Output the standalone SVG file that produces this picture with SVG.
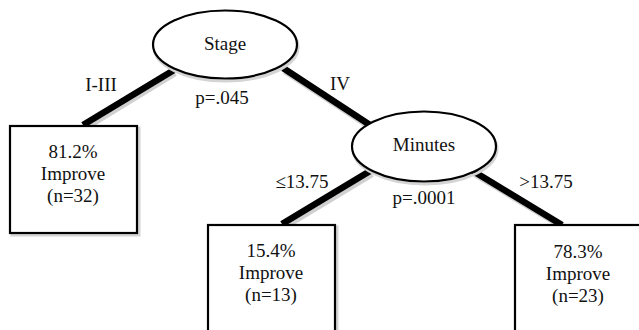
<svg xmlns="http://www.w3.org/2000/svg" width="639" height="330" viewBox="0 0 639 330">
<style>
.edge{stroke:#000;stroke-width:6.5;stroke-linecap:butt}
.eshadow{stroke:#d0d0d0;stroke-width:6.5}
.node{fill:#fff;stroke:#000;stroke-width:2.2}
.shadow{fill:none;stroke:#d4d4d4;stroke-width:3}
</style>
<rect width="639" height="330" fill="#fff"/>
<g id="connectors">
<line class="eshadow" x1="175" y1="73" x2="85" y2="128"/>
<line class="eshadow" x1="285" y1="71" x2="372" y2="128"/>
<line class="eshadow" x1="372" y1="174" x2="284" y2="227"/>
<line class="eshadow" x1="475" y1="174" x2="563" y2="227"/>
<line class="edge" x1="174" y1="70" x2="83" y2="125"/>
<line class="edge" x1="283" y1="68" x2="370" y2="125"/>
<line class="edge" x1="370" y1="171" x2="282" y2="224"/>
<line class="edge" x1="473" y1="171" x2="562" y2="225"/>
<g font-family="Liberation Serif, serif" font-size="19" fill="#111" text-anchor="middle">
<text x="101" y="91">I-III</text>
<text x="340" y="90">IV</text>
<text x="222" y="104">p=.045</text>
<text x="302" y="188">≤13.75</text>
<text x="546" y="188">&gt;13.75</text>
<text x="424" y="204">p=.0001</text>
</g>
</g>
<g id="stage">
<ellipse class="shadow" cx="226" cy="47" rx="72" ry="34"/>
<ellipse class="node" cx="225" cy="44.5" rx="72" ry="34"/>
<text font-family="Liberation Serif, serif" font-size="19" fill="#111" text-anchor="middle" x="225" y="50">Stage</text>
</g>
<g id="minutes">
<ellipse class="shadow" cx="425" cy="149" rx="72" ry="35"/>
<ellipse class="node" cx="424" cy="146.5" rx="72" ry="35"/>
<text font-family="Liberation Serif, serif" font-size="19" fill="#111" text-anchor="middle" x="424" y="151">Minutes</text>
</g>
<g id="leaf1" font-family="Liberation Serif, serif" font-size="19" fill="#111" text-anchor="middle">
<rect class="shadow" x="12" y="128" width="127" height="107"/>
<rect class="node" x="10" y="126" width="127" height="107"/>
<text x="73" y="158">81.2%</text>
<text x="73" y="180">Improve</text>
<text x="73" y="202">(n=32)</text>
</g>
<g id="leaf2" font-family="Liberation Serif, serif" font-size="19" fill="#111" text-anchor="middle">
<rect class="shadow" x="210" y="227" width="127" height="110"/>
<rect class="node" x="208" y="225" width="127" height="110"/>
<text x="271" y="257">15.4%</text>
<text x="271" y="279">Improve</text>
<text x="271" y="301">(n=13)</text>
</g>
<g id="leaf3" font-family="Liberation Serif, serif" font-size="19" fill="#111" text-anchor="middle">
<rect class="shadow" x="517" y="227" width="127" height="110"/>
<rect class="node" x="515" y="225" width="127" height="110"/>
<text x="578" y="258">78.3%</text>
<text x="578" y="280">Improve</text>
<text x="578" y="302">(n=23)</text>
</g>
</svg>
